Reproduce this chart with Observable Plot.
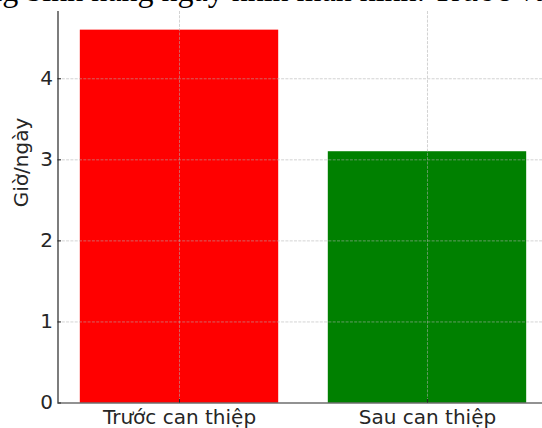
<!DOCTYPE html>
<html>
<head>
<meta charset="utf-8">
<script src="https://cdn.jsdelivr.net/npm/d3@7"></script>
<script src="https://cdn.jsdelivr.net/npm/@observablehq/plot@0.6"></script>
<style>
  html, body { margin: 0; padding: 0; background: #fff; overflow: hidden; }
  #wrap { position: relative; width: 542px; height: 428px; overflow: hidden; }
  #title { position: absolute; left: -200px; top: -26px; width: 942px; text-align: center;
           font-family: "Liberation Serif", serif; font-size: 32px; line-height: 1; white-space: nowrap; color: #000; }
</style>
</head>
<body>
<div id="wrap">
  <div id="chart"></div>
  <div id="title">Thời gian trung bình hàng ngày nhìn màn hình: Trước và sau can thiệp</div>
</div>
<script>
const categories = ["Trước can thiệp", "Sau can thiệp"];
const values = [4.6, 3.1];
const barColors = ["#ff0000", "#008000"];
const yTicks = [0, 1, 2, 3, 4];
const yLabel = "Giờ/ngày";

const data = categories.map((c, i) => ({i, c, v: values[i], color: barColors[i]}));
const idx = categories.map((c, i) => i);
const gridStyle = {stroke: "#b0b0b0", strokeOpacity: 0.7, strokeDasharray: "3,1.3", strokeWidth: 0.8};
const ink = "#262626";

const chart = Plot.plot({
  width: 542,
  height: 428,
  marginTop: 11,
  marginBottom: 25.5,
  marginLeft: 57.5,
  marginRight: 0,
  style: {fontFamily: "DejaVu Sans", fontSize: "20px", color: ink, background: "transparent", overflow: "hidden"},
  x: {type: "linear", domain: [-0.49, 1.49], range: [57.5, 548.5], axis: null},
  y: {domain: [0, 4.83], axis: null},
  color: {type: "identity"},
  marks: [
    Plot.rectY(data, {x1: d => d.i - 0.4, x2: d => d.i + 0.4, y1: 0, y2: "v", fill: "color"}),
    Plot.ruleY(yTicks.filter(t => t > 0), {y: d => d, ...gridStyle}),
    Plot.ruleX(idx, {x: d => d, ...gridStyle}),
    Plot.axisY(yTicks, {anchor: "left", tickSize: -3.5, tickPadding: 8.5, tickFormat: d => String(d), fontSize: 20, stroke: ink, fill: ink, label: null}),
    Plot.axisX(idx, {anchor: "bottom", tickSize: -3.5, tickPadding: 10, tickFormat: i => categories[i], fontSize: 20, stroke: ink, fill: ink, label: null}),
    Plot.ruleY([0], {stroke: ink, strokeWidth: 1.2}),
    Plot.ruleX([-0.49], {stroke: ink, strokeWidth: 1.2}),
    Plot.text([yLabel], {text: d => d, frameAnchor: "left", rotate: -90, dx: -36, fontSize: 20, fill: ink})
  ]
});
document.getElementById("chart").appendChild(chart);
</script>
</body>
</html>
